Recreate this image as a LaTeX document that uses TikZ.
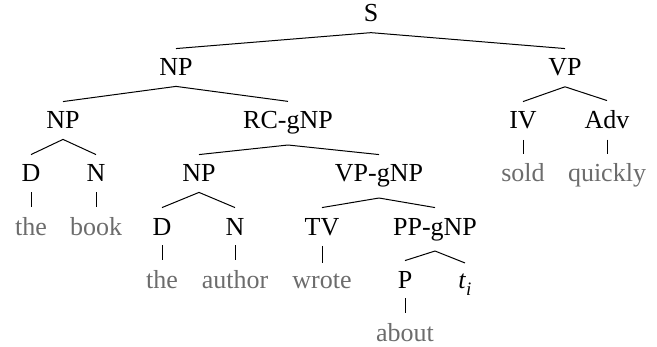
\documentclass[tikz,border=0pt]{standalone}
\usepackage{fontspec}
\setmainfont{Liberation Serif}
\definecolor{leafgray}{RGB}{108,108,108}
\begin{document}
\begin{tikzpicture}[x=0.5pt,y=-0.5pt,
  cat/.style={anchor=base,inner xsep=1pt,inner ysep=5pt,font=\fontsize{13}{15}\selectfont},
  leaf/.style={cat,text=leafgray},
  edge/.style={line width=0.5pt}]
\useasboundingbox (0,0) rectangle (657,347);
% level 0
\node[cat] (S) at (371,22) {S};
% level 1
\node[cat] (NPa) at (176,76) {NP};
\node[cat] (VP) at (565,76) {VP};
% level 2
\node[cat] (NPb) at (63,129) {NP};
\node[cat] (RC) at (288,129) {RC-gNP};
\node[cat] (IV) at (523,129) {IV};
\node[cat] (Adv) at (607,129) {Adv};
% level 3
\node[cat] (Da) at (31,182) {D};
\node[cat] (Na) at (96,182) {N};
\node[cat] (NPc) at (199,182) {NP};
\node[cat] (VPg) at (379,182) {VP-gNP};
\node[leaf] (sold) at (523,182) {sold};
\node[leaf] (quickly) at (607,182) {quickly};
% level 4
\node[leaf] (thea) at (31,235) {the};
\node[leaf] (book) at (96,235) {book};
\node[cat] (Db) at (162,235) {D};
\node[cat] (Nb) at (235,235) {N};
\node[cat] (TV) at (322,235) {TV};
\node[cat] (PP) at (435,235) {PP-gNP};
% level 5
\node[leaf] (theb) at (162,288) {the};
\node[leaf] (author) at (235,288) {author};
\node[leaf] (wrote) at (322,288) {wrote};
\node[cat] (P) at (405,288) {P};
\node[cat,text depth=0pt] (t) at (465,288) {\textit{t}\raisebox{-0.3em}{\fontsize{9.5}{10}\selectfont\textit{i}}};
% level 6
\node[leaf] (about) at (405,341) {about};
% edges
\draw[edge] (S.south) -- (NPa.north);
\draw[edge] (S.south) -- (VP.north);
\draw[edge] (NPa.south) -- (NPb.north);
\draw[edge] (NPa.south) -- (RC.north);
\draw[edge] (VP.south) -- (IV.north);
\draw[edge] (VP.south) -- (Adv.north);
\draw[edge] (NPb.south) -- (Da.north);
\draw[edge] (NPb.south) -- (Na.north);
\draw[edge] (RC.south) -- (NPc.north);
\draw[edge] (RC.south) -- (VPg.north);
\draw[edge] (IV.south) -- (sold.north);
\draw[edge] (Adv.south) -- (quickly.north);
\draw[edge] (Da.south) -- (thea.north);
\draw[edge] (Na.south) -- (book.north);
\draw[edge] (NPc.south) -- (Db.north);
\draw[edge] (NPc.south) -- (Nb.north);
\draw[edge] (VPg.south) -- (TV.north);
\draw[edge] (VPg.south) -- (PP.north);
\draw[edge] (Db.south) -- (theb.north);
\draw[edge] (Nb.south) -- (author.north);
\draw[edge] (TV.south) -- (wrote.north);
\draw[edge] (PP.south) -- (P.north);
\draw[edge] (PP.south) -- (t.north);
\draw[edge] (P.south) -- (about.north);
\end{tikzpicture}
\end{document}
